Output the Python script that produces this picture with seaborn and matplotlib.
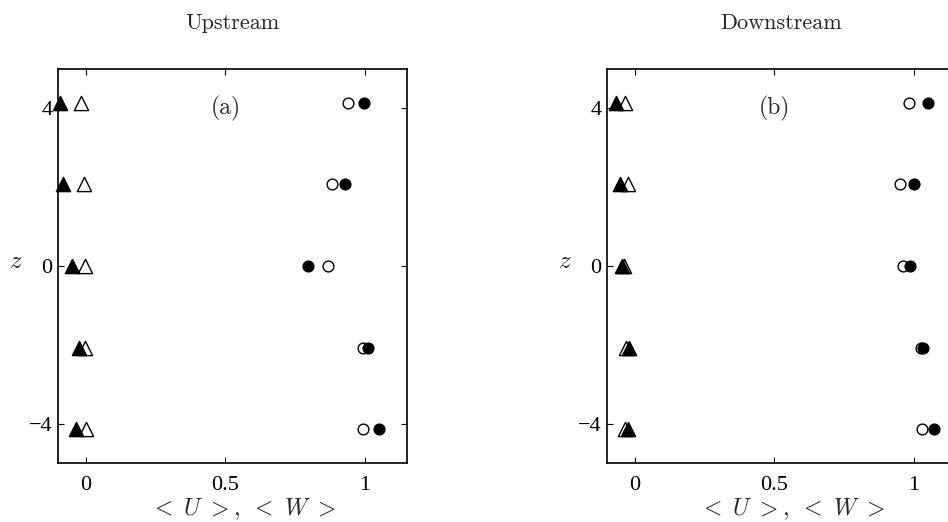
import numpy as np
import pandas as pd
import matplotlib
matplotlib.use('Agg')
import matplotlib.pyplot as plt
import seaborn as sns

# ---- data ----
z = [4.14, 2.07, 0.0, -2.07, -4.14]

# Upstream panel (a)
up_U_open = [0.940, 0.880, 0.868, 0.994, 0.994]
up_U_filled = [0.997, 0.930, 0.796, 1.012, 1.050]
up_W_open = [-0.019, -0.007, -0.005, -0.004, -0.001]
up_W_filled = [-0.093, -0.083, -0.051, -0.025, -0.035]

# Downstream panel (b)
dn_U_open = [0.981, 0.951, 0.960, 1.025, 1.029]
dn_U_filled = [1.049, 0.999, 0.987, 1.032, 1.073]
dn_W_open = [-0.037, -0.025, -0.039, -0.033, -0.034]
dn_W_filled = [-0.069, -0.052, -0.045, -0.021, -0.025]

titles = ["Upstream", "Downstream"]
panel_tags = ["(a)", "(b)"]
xticks = [0, 0.5, 1]
xticklabels = ["0", "0.5", "1"]
yticks = [-4, 0, 4]
yticklabels = ["\u22124", "0", "4"]

sns.set_theme(style="ticks")
plt.rcParams["mathtext.fontset"] = "cm"
plt.rcParams["font.family"] = ["Liberation Serif", "DejaVu Serif"]

fig = plt.figure(figsize=(9.48, 5.22), dpi=100)
ax1 = fig.add_axes([0.0612, 0.113, 0.368, 0.755])
ax2 = fig.add_axes([0.6403, 0.113, 0.368, 0.755])

panels = [
    (ax1, up_U_open, up_U_filled, up_W_open, up_W_filled),
    (ax2, dn_U_open, dn_U_filled, dn_W_open, dn_W_filled),
]

for i, (ax, Uo, Uf, Wo, Wf) in enumerate(panels):
    common = dict(ax=ax, clip_on=False, zorder=3, linewidth=1.0, legend=False)
    sns.scatterplot(x=Wo, y=z, marker="^", s=105, color="white", edgecolor="black", **common)
    sns.scatterplot(x=Wf, y=z, marker="^", s=105, color="black", edgecolor="black", **common)
    sns.scatterplot(x=Uo, y=z, marker="o", s=60, color="white", edgecolor="black", **common)
    sns.scatterplot(x=Uf, y=z, marker="o", s=60, color="black", edgecolor="black", **common)

    ax.set_xlim(-0.1, 1.15)
    ax.set_ylim(-5, 5)
    ax.set_xticks(xticks)
    ax.set_xticklabels(xticklabels, fontsize=16)
    ax.set_yticks(yticks)
    ax.set_yticklabels(yticklabels, fontsize=16)
    ax.tick_params(direction="in", length=4, width=0.8, top=True, right=True,
                   colors="black", pad=4)
    ax.tick_params(axis="x", pad=9)
    for sp in ax.spines.values():
        sp.set_visible(True)
        sp.set_linewidth(1.2)
        sp.set_color("black")

    ax.set_xlabel(r"$<\ U\ >,\ <\ W\ >$", fontsize=17)
    ax.xaxis.set_label_coords(0.53, -0.118)
    ax.xaxis.label.set_va("center")
    ax.set_ylabel(r"$z$", fontsize=18, rotation=0)
    ax.yaxis.set_label_coords(-0.12, 0.51)
    ax.yaxis.label.set_va("center")

    ax.text(0.5, 4.0, panel_tags[i], ha="center", va="center",
            fontsize=17, family="cmr10")
    ax.text(0.5, 1.117, titles[i], transform=ax.transAxes, ha="center",
            va="center", fontsize=16, family="cmr10")
    ax.grid(False)

fig.savefig("out.png", dpi=100)
